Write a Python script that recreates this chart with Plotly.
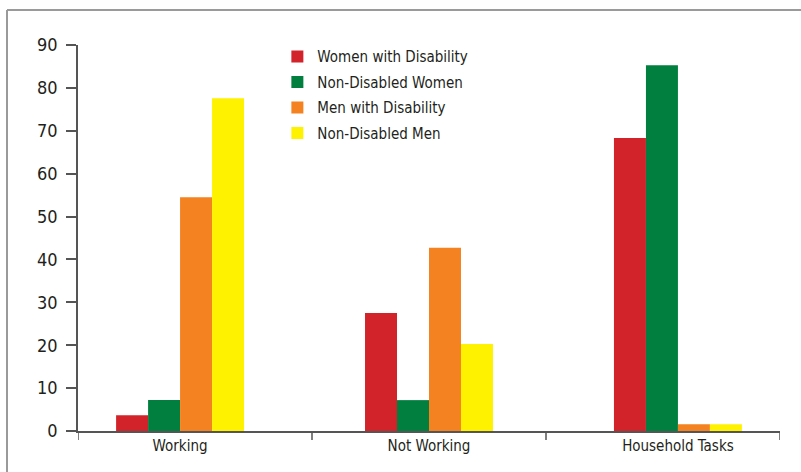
import plotly.graph_objects as go

categories = ['Working', 'Not Working', 'Household Tasks']
women_disability = [3.7, 27.5, 68.3]
women_non_disabled = [7.2, 7.2, 85.3]
men_disability = [54.5, 42.7, 1.6]
men_non_disabled = [77.6, 20.3, 1.6]

series = [
    ('Women with Disability', women_disability, '#D2232A'),
    ('Non-Disabled Women', women_non_disabled, '#007F3F'),
    ('Men with Disability', men_disability, '#F58220'),
    ('Non-Disabled Men', men_non_disabled, '#FFF200'),
]

x = list(range(len(categories)))
fig = go.Figure()
for name, vals, color in series:
    fig.add_trace(go.Bar(x=x, y=vals, name=name, legendgroup=name,
                         marker_color=color, marker_line_width=0))

font_family = 'DejaVu Sans Condensed, Liberation Sans Narrow, sans-serif'
text_color = '#231F20'
axis_color = '#555555'
xr = [-0.41, 2.41]
span = xr[1] - xr[0]
bounds = [xr[0] + span * i / 3 for i in range(4)]

plot_w = 801 - 78 - 21
plot_h = 472 - 45 - 41

fig.update_layout(
    width=801,
    height=472,
    margin=dict(l=78, r=21, t=45, b=41, autoexpand=False),
    plot_bgcolor='white',
    paper_bgcolor='white',
    barmode='group',
    bargap=0.486,
    bargroupgap=0,
    font=dict(family=font_family, color=text_color, size=15),
    legend=dict(
        x=0.284, y=1.012, xanchor='left', yanchor='top',
        bgcolor='rgba(0,0,0,0)',
        tracegroupgap=3,
        font=dict(size=15, color=text_color),
    ),
    xaxis=dict(
        range=xr,
        tickvals=x,
        ticktext=categories,
        ticks='',
        showline=True,
        linecolor=axis_color,
        linewidth=1.5,
        showgrid=False,
        zeroline=False,
        automargin=False,
        tickfont=dict(size=15, color=text_color),
    ),
    yaxis=dict(
        range=[0, 90],
        dtick=10,
        ticks='outside',
        ticklen=10,
        tickwidth=1.5,
        tickcolor=axis_color,
        ticklabelstandoff=5,
        showline=True,
        linecolor=axis_color,
        linewidth=1.5,
        showgrid=False,
        zeroline=False,
        automargin=False,
        tickfont=dict(size=18, color=text_color),
    ),
)

# category boundary ticks on the x axis
for b in bounds:
    fig.add_shape(type='line', xref='x', yref='paper', x0=b, x1=b, y0=0, y1=-9 / plot_h,
                  line=dict(color=axis_color, width=1.5))

# outer frame (top and left edges visible in the picture)
fx = -(78 - 7) / plot_w
fy = 1 + (45 - 10) / plot_h
fig.add_shape(type='line', xref='paper', yref='paper', x0=fx, x1=1.2, y0=fy, y1=fy,
              line=dict(color='#9A9A9A', width=2))
fig.add_shape(type='line', xref='paper', yref='paper', x0=fx, x1=fx, y0=fy, y1=-0.3,
              line=dict(color='#9A9A9A', width=2))

fig.write_html('out.html', config={'displayModeBar': False},
               post_script="document.body.style.margin='0';")
